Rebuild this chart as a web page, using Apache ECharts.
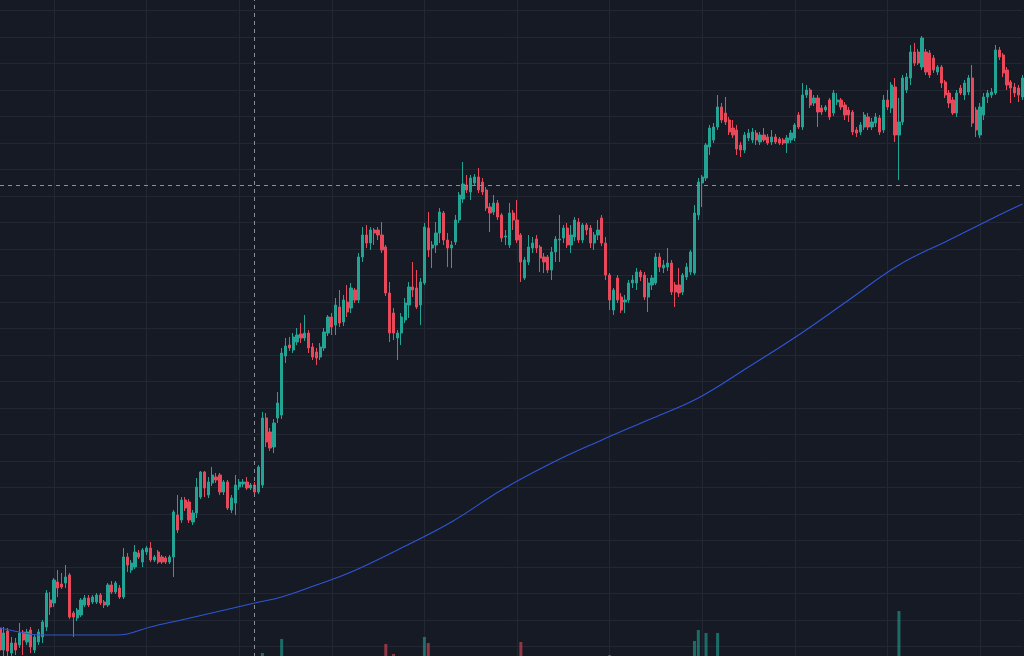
<!DOCTYPE html>
<html>
<head>
<meta charset="utf-8">
<script src="https://cdn.jsdelivr.net/npm/echarts@6/dist/echarts.min.js"></script>
<style>
  html, body { margin: 0; padding: 0; background: #161a25; overflow: hidden; }
  #main { position: absolute; left: 0; top: -16px; width: 1024px; height: 689px; }
</style>
</head>
<body>
<div id="main"></div>
<script>
// hourly candles, [open, close, low, high]
var ohlc = [
  [45,23,17,48],[23,40,15,46],[42,22,14,45],[20,30,10,36],[30,23,18,35],
  [28,40,25,50],[41,33,18,43],[31,41,28,44],[43,26,20,46],[23,36,20,38],
  [31,41,28,44],[36,51,30,53],[46,80,42,83],[73,66,58,81],[70,93,66,95],
  [91,85,76,103],[89,86,84,100],[90,96,85,108],[98,56,54,100],[60,56,36,62],
  [55,63,52,65],[58,73,56,75],[68,75,66,78],[75,68,66,78],[71,76,69,78],
  [71,78,69,80],[78,70,68,80],[71,68,65,73],[68,88,66,90],[88,81,79,92],
  [81,90,79,92],[85,76,74,88],[76,116,74,125],[116,108,101,120],[103,110,100,113],
  [106,121,104,128],[120,116,114,123],[111,123,106,125],[121,125,118,127],[125,113,111,131],
  [113,116,111,118],[121,111,109,123],[116,111,109,118],[115,111,109,117],[111,116,109,118],
  [116,161,96,163],[158,143,140,178],[153,173,150,176],[173,165,162,176],[171,153,150,174],
  [151,160,148,163],[160,186,155,195],[176,201,174,202],[201,185,176,202],[178,191,175,196],
  [190,198,187,206],[196,193,190,200],[198,181,178,200],[181,191,178,193],[191,165,163,193],
  [163,175,160,178],[170,188,158,198],[186,191,183,194],[189,191,186,194],[191,185,183,196],
  [185,188,183,190],[188,181,179,191],[181,206,179,208],[188,255,185,261],[255,231,226,260],
  [241,225,222,245],[226,250,220,254],[255,270,250,281],[258,320,254,325],[317,327,310,335],
  [328,325,322,336],[323,336,320,340],[331,338,328,345],[339,335,330,350],[335,340,332,358],
  [340,325,320,343],[326,316,313,330],[321,315,308,325],[316,326,313,330],[325,341,322,345],
  [340,356,337,358],[356,346,338,360],[348,368,338,375],[366,350,346,383],[351,373,347,378],
  [371,361,356,388],[365,385,360,390],[383,373,370,385],[373,416,370,420],[416,438,411,446],
  [438,430,425,448],[430,443,423,446],[443,440,428,445],[443,438,433,446],[438,423,420,451],
  [426,380,377,428],[380,340,331,391],[360,340,333,365],[335,340,313,343],[340,356,328,360],
  [353,370,350,375],[368,386,355,391],[386,383,376,411],[385,366,364,403],[368,391,348,395],
  [390,446,388,450],[445,423,416,461],[425,428,405,432],[428,440,420,451],[440,461,430,465],
  [460,433,428,462],[433,425,406,440],[425,428,405,432],[431,453,428,458],[453,478,450,481],
  [474,489,470,511],[488,483,480,498],[481,495,473,498],[490,496,488,499],[496,483,480,505],
  [491,481,478,495],[483,465,462,486],[466,460,441,470],[461,470,458,478],[470,456,453,473],
  [458,435,431,460],[436,437,428,443],[428,460,425,470],[460,453,443,463],[453,433,430,473],
  [438,411,391,440],[395,413,393,416],[411,426,408,438],[425,430,420,436],[434,425,420,438],
  [426,415,401,428],[416,411,400,420],[416,403,400,418],[403,421,393,426],[421,434,411,437],
  [433,434,411,458],[435,445,430,448],[445,428,425,450],[428,438,420,448],[436,453,432,456],
  [451,433,430,455],[433,448,430,450],[448,443,438,450],[445,430,425,448],[430,438,423,441],
  [438,443,433,453],[455,430,427,458],[430,398,393,436],[398,373,363,400],[363,383,358,385],
  [395,373,370,398],[376,363,360,380],[371,373,360,378],[373,390,370,393],[390,393,385,398],
  [390,401,383,405],[401,396,392,403],[398,376,373,401],[376,390,361,395],[388,395,383,398],
  [390,416,388,420],[416,406,401,420],[405,408,400,413],[406,410,402,425],[410,381,378,413],
  [388,381,366,391],[388,380,376,405],[381,398,378,400],[396,406,393,410],[401,421,398,423],
  [400,460,398,468],[458,491,453,495],[490,496,466,498],[495,528,492,530],[526,545,518,548],
  [533,546,530,550],[546,566,543,578],[566,553,550,570],[560,551,548,576],[553,541,538,556],
  [545,538,535,553],[543,524,518,548],[528,523,516,531],[523,538,520,541],[535,540,532,544],
  [533,541,530,545],[540,533,528,543],[531,538,528,541],[538,533,531,545],[536,530,528,539],
  [531,536,528,543],[536,531,529,539],[534,530,528,536],[533,530,528,535],[530,535,520,538],
  [533,540,530,543],[535,548,532,550],[558,546,544,561],[546,578,543,590],[578,583,575,588],
  [583,568,565,585],[570,575,567,578],[575,561,546,578],[565,561,558,568],[563,566,561,568],
  [573,556,553,575],[560,580,557,583],[571,573,568,580],[573,566,563,575],[568,558,553,571],
  [563,558,551,566],[561,541,538,563],[543,540,536,546],[541,548,538,551],[546,558,543,561],
  [556,546,543,560],[546,551,543,555],[550,556,546,560],[555,541,538,558],[543,573,540,578],
  [573,566,563,583],[565,588,560,591],[586,538,531,595],[538,551,493,575],[551,595,548,598],
  [583,596,580,600],[595,621,588,628],[621,610,607,630],[621,610,608,624],[606,635,603,637],
  [621,601,598,624],[620,598,595,623],[615,603,600,618],[601,606,598,608],[606,590,585,608],
  [591,578,575,593],[580,570,565,583],[573,560,558,576],[560,580,556,583],[585,580,578,588],
  [578,590,573,593],[581,595,578,598],[595,550,546,608],[563,543,536,566],[538,566,535,570],
  [558,576,553,580],[576,580,570,583],[578,581,575,585],[580,623,578,628],[623,616,613,626],
  [618,600,596,620],[603,588,583,606],[591,585,570,593],[586,580,576,590],[585,578,571,588],
  [576,595,573,598]
];

// slow moving average, [candle index, value]
var maPoints = [
  [0,45],[5,41],[10,38],[30,38],[33,39],[39,46],[47,53],[56,61],[66,70],
  [73,76],[82,88],[91,101],[104,125],[117,151],[130,183],[143,210],[156,233],
  [168,253],[181,275],[194,306],[207,338],[220,373],[233,408],[246,433],
  [259,458],[265,469]
];

// only the tallest volume bars reach into view, [candle index, volume]
var volBars = [
  [68,300],[73,1700],[100,1200],[102,200],[110,1900],[111,1300],[135,1400],
  [158,100],[180,1500],[181,2600],[183,2300],[186,2300],[233,4500]
];

var crossIndex = 66;
var crossPrice = 488;

var times = ohlc.map(function (_, i) {
  var d = new Date(Date.UTC(2024, 0, 1, 10 + i));
  return d.toISOString().slice(0, 13).replace('T', ' ') + ':00';
});

var upColor = '#22a393';
var downColor = '#e8485a';
var gridColor = '#232733';

function dayLine(index) {
  return (index - 14) % 24 === 0;
}

var chart = echarts.init(document.getElementById('main'));

var option = {
  backgroundColor: '#161a25',
  animation: false,
  grid: [
    { left: 0, right: 1.6, top: 0, bottom: 0 },
    { left: 0, right: 1.6, top: 576, bottom: 17 }
  ],
  xAxis: [
    {
      type: 'category',
      data: times,
      boundaryGap: false,
      axisLine: { show: false },
      axisTick: { show: false, interval: dayLine },
      axisLabel: { show: false },
      splitLine: { show: true, interval: dayLine, lineStyle: { color: gridColor, width: 1 } }
    },
    {
      type: 'category',
      gridIndex: 1,
      data: times,
      boundaryGap: false,
      axisLine: { show: false },
      axisTick: { show: false },
      axisLabel: { show: false },
      splitLine: { show: false }
    }
  ],
  yAxis: [
    {
      type: 'value',
      position: 'right',
      min: 0,
      max: 689,
      interval: 26.5,
      axisLine: { show: false },
      axisTick: { show: false },
      axisLabel: { show: false },
      splitLine: { show: true, lineStyle: { color: gridColor, width: 1 } }
    },
    {
      type: 'value',
      gridIndex: 1,
      min: 0,
      max: 9600,
      axisLine: { show: false },
      axisTick: { show: false },
      axisLabel: { show: false },
      splitLine: { show: false }
    }
  ],
  series: [
    {
      name: 'Volume',
      type: 'bar',
      xAxisIndex: 1,
      yAxisIndex: 1,
      barWidth: 3,
      data: volBars,
      itemStyle: {
        color: function (p) {
          var c = ohlc[p.value[0]];
          return c[1] >= c[0] ? 'rgba(34,163,147,0.6)' : 'rgba(232,72,90,0.6)';
        }
      }
    },
    {
      name: 'MA',
      type: 'line',
      data: maPoints,
      smooth: 0.4,
      showSymbol: false,
      lineStyle: { color: '#2f56d6', width: 1.1 }
    },
    {
      name: 'Price',
      type: 'candlestick',
      data: ohlc,
      barWidth: 2.7,
      itemStyle: {
        color: upColor,
        color0: downColor,
        borderColor: upColor,
        borderColor0: downColor,
        borderWidth: 1
      },
      markLine: {
        silent: true,
        symbol: ['none', 'none'],
        label: { show: false },
        lineStyle: { color: '#8a8e99', type: [4, 4], width: 1 },
        data: [
          { xAxis: crossIndex },
          { yAxis: crossPrice }
        ]
      }
    }
  ]
};

chart.setOption(option);
</script>
</body>
</html>
